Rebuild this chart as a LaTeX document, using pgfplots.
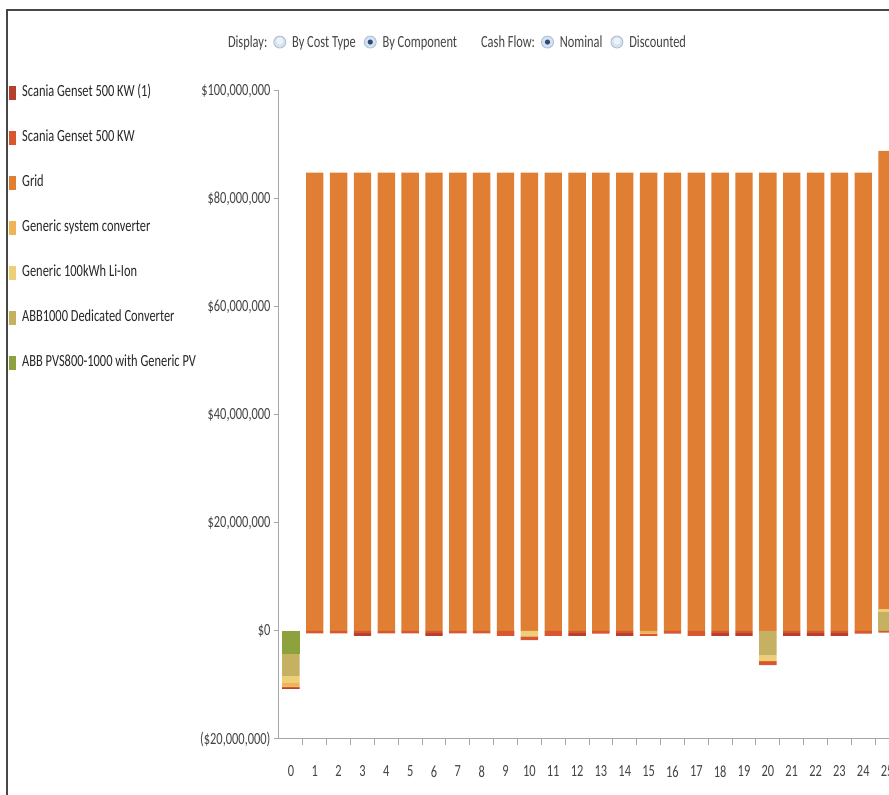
\documentclass[border=0pt]{standalone}
\usepackage{pgfplots}
\pgfplotsset{compat=1.18}
\usepackage{pgfplotstable}
\usepackage{fontspec}
\setmainfont[FakeStretch=0.73]{Carlito}

\definecolor{gsone}{HTML}{B5402C}
\definecolor{gsfive}{HTML}{D9572E}
\definecolor{gridc}{HTML}{E07F34}
\definecolor{convc}{HTML}{F0B456}
\definecolor{lionc}{HTML}{ECCF78}
\definecolor{abbc}{HTML}{C6B162}
\definecolor{pvc}{HTML}{8DA23C}
\definecolor{axisgray}{HTML}{A6A6A6}
\definecolor{labelgray}{HTML}{444444}
\definecolor{radioring}{HTML}{A9BCD2}
\definecolor{radiofill}{HTML}{D6E2EF}
\definecolor{radiodot}{HTML}{2C4C78}

% nominal cash flow by component, millions of dollars per project year
% negative stack (downward from zero): pv, abbn, lin, conv, gen, gsa
% positive stack (upward from zero): abbp, lip, grid
\pgfplotstableread{
year pv abbn lin conv gen gsa abbp lip grid
0 -4.3 -4.0 -1.3 -0.7 -0.3 -0.1 0 0 0
1 0 0 0 0 -0.45 0 0 0 84.9
2 0 0 0 0 -0.45 0 0 0 84.9
3 0 0 0 0 -0.4 -0.5 0 0 84.9
4 0 0 0 0 -0.45 0 0 0 84.9
5 0 0 0 0 -0.45 0 0 0 84.9
6 0 0 0 0 -0.4 -0.5 0 0 84.9
7 0 0 0 0 -0.45 0 0 0 84.9
8 0 0 0 0 -0.45 0 0 0 84.9
9 0 0 0 0 -0.9 0 0 0 84.9
10 0 0 -1.0 0 -0.7 0 0 0 84.9
11 0 0 0 0 -0.9 0 0 0 84.9
12 0 0 0 0 -0.4 -0.5 0 0 84.9
13 0 0 0 0 -0.5 0 0 0 84.9
14 0 0 0 0 -0.4 -0.5 0 0 84.9
15 0 0 0 -0.5 -0.4 0 0 0 84.9
16 0 0 0 0 -0.5 0 0 0 84.9
17 0 0 0 0 -0.9 0 0 0 84.9
18 0 0 0 0 -0.4 -0.5 0 0 84.9
19 0 0 0 0 -0.4 -0.5 0 0 84.9
20 0 -4.5 -1.1 0 -0.7 0 0 0 84.9
21 0 0 0 0 -0.4 -0.5 0 0 84.9
22 0 0 0 0 -0.4 -0.5 0 0 84.9
23 0 0 0 0 -0.4 -0.5 0 0 84.9
24 0 0 0 0 -0.5 0 0 0 84.9
25 0 0 0 0 -0.3 0 3.5 0.6 84.8
}\cashflow

\newcommand{\radiooff}{\tikz[baseline=-5.5pt]{\fill[radiofill] (0,0) circle (6pt);\fill[white,opacity=0.6] (0,1pt) circle (3.5pt);\draw[radioring,line width=0.8pt] (0,0) circle (6pt);}}
\newcommand{\radioon}{\tikz[baseline=-5.5pt]{\fill[radiofill] (0,0) circle (6pt);\draw[radioring,line width=0.8pt] (0,0) circle (6pt);\fill[radiodot] (0,0) circle (2.6pt);}}

\pgfplotsset{
  cfaxis/.style={
    scale only axis, width=610pt, height=648pt,
    at={(279pt,56pt)}, anchor=south west,
    xmin=-0.5, xmax=25.08, ymin=-20, ymax=100,
    ybar stacked, bar width=0.73,
  },
  swatch legend/.style={legend image code/.code={\fill[##1] (0pt,-7pt) rectangle (7pt,7pt);}},
}

\begin{document}
\begin{tikzpicture}[x=1pt,y=1pt]
\useasboundingbox (0,0) rectangle (889,795);
\fill[white] (0,0) rectangle (889,795);
\draw[black!72, line width=1.5pt] (7,0) -- (7,785) -- (889,785);

\node[text=labelgray, font=\fontsize{17}{20}\selectfont, inner sep=0pt] at (457,752)
  {Display:\hspace{6pt}\radiooff\hspace{6pt}By Cost Type\hspace{8pt}\radioon\hspace{6pt}By Component\hspace{24pt}Cash Flow:\hspace{6pt}\radioon\hspace{6pt}Nominal\hspace{8pt}\radiooff\hspace{6pt}Discounted};

% upward stack with the visible axes and the legend
\begin{axis}[cfaxis,
  axis lines*=left,
  axis line style={draw=axisgray, line width=1pt},
  tick align=outside,
  major tick length=5pt, minor tick length=6pt,
  tick style={draw=axisgray, line width=1pt},
  major x tick style={draw=none},
  xtick={0,...,25}, minor xtick={0.5,1.5,...,24.5},
  ytick={-20,0,20,40,60,80,100},
  yticklabels={{(\$20,000,000)},{\$0},{\$20,000,000},{\$40,000,000},{\$60,000,000},{\$80,000,000},{\$100,000,000}},
  /pgf/number format/assume math mode=true,
  ticklabel style={font=\fontsize{17}{20}\selectfont, text=labelgray},
  xticklabel style={yshift=-18pt},
  legend style={draw=none, fill=none, at={(-0.4475,1.0123)}, anchor=north west,
    font=\fontsize{17}{20}\selectfont, text=black!85, row sep=30pt,
    nodes={inner sep=0pt, text height=11pt, text depth=4pt},
    /tikz/every odd column/.append style={column sep=6pt}},
  legend cell align=left,
]
\addplot[fill=abbc, draw=none, forget plot] table[x=year, y=abbp]{\cashflow};
\addplot[fill=lionc, draw=none, forget plot] table[x=year, y=lip]{\cashflow};
\addplot[fill=gridc, draw=none, forget plot] table[x=year, y=grid]{\cashflow};
\addlegendimage{swatch legend, fill=gsone, draw=none}
\addlegendentry{Scania Genset 500 KW (1)}
\addlegendimage{swatch legend, fill=gsfive, draw=none}
\addlegendentry{Scania Genset 500 KW}
\addlegendimage{swatch legend, fill=gridc, draw=none}
\addlegendentry{Grid}
\addlegendimage{swatch legend, fill=convc, draw=none}
\addlegendentry{Generic system converter}
\addlegendimage{swatch legend, fill=lionc, draw=none}
\addlegendentry{Generic 100kWh Li-Ion}
\addlegendimage{swatch legend, fill=abbc, draw=none}
\addlegendentry{ABB1000 Dedicated Converter}
\addlegendimage{swatch legend, fill=pvc, draw=none}
\addlegendentry{ABB PVS800-1000 with Generic PV}
\end{axis}

% downward stack of the negative cash flows
\begin{axis}[cfaxis, hide axis]
\addplot[fill=pvc, draw=none] table[x=year, y=pv]{\cashflow};
\addplot[fill=abbc, draw=none] table[x=year, y=abbn]{\cashflow};
\addplot[fill=lionc, draw=none] table[x=year, y=lin]{\cashflow};
\addplot[fill=convc, draw=none] table[x=year, y=conv]{\cashflow};
\addplot[fill=gsfive, draw=none] table[x=year, y=gen]{\cashflow};
\addplot[fill=gsone, draw=none] table[x=year, y=gsa]{\cashflow};
\end{axis}
\end{tikzpicture}
\end{document}
